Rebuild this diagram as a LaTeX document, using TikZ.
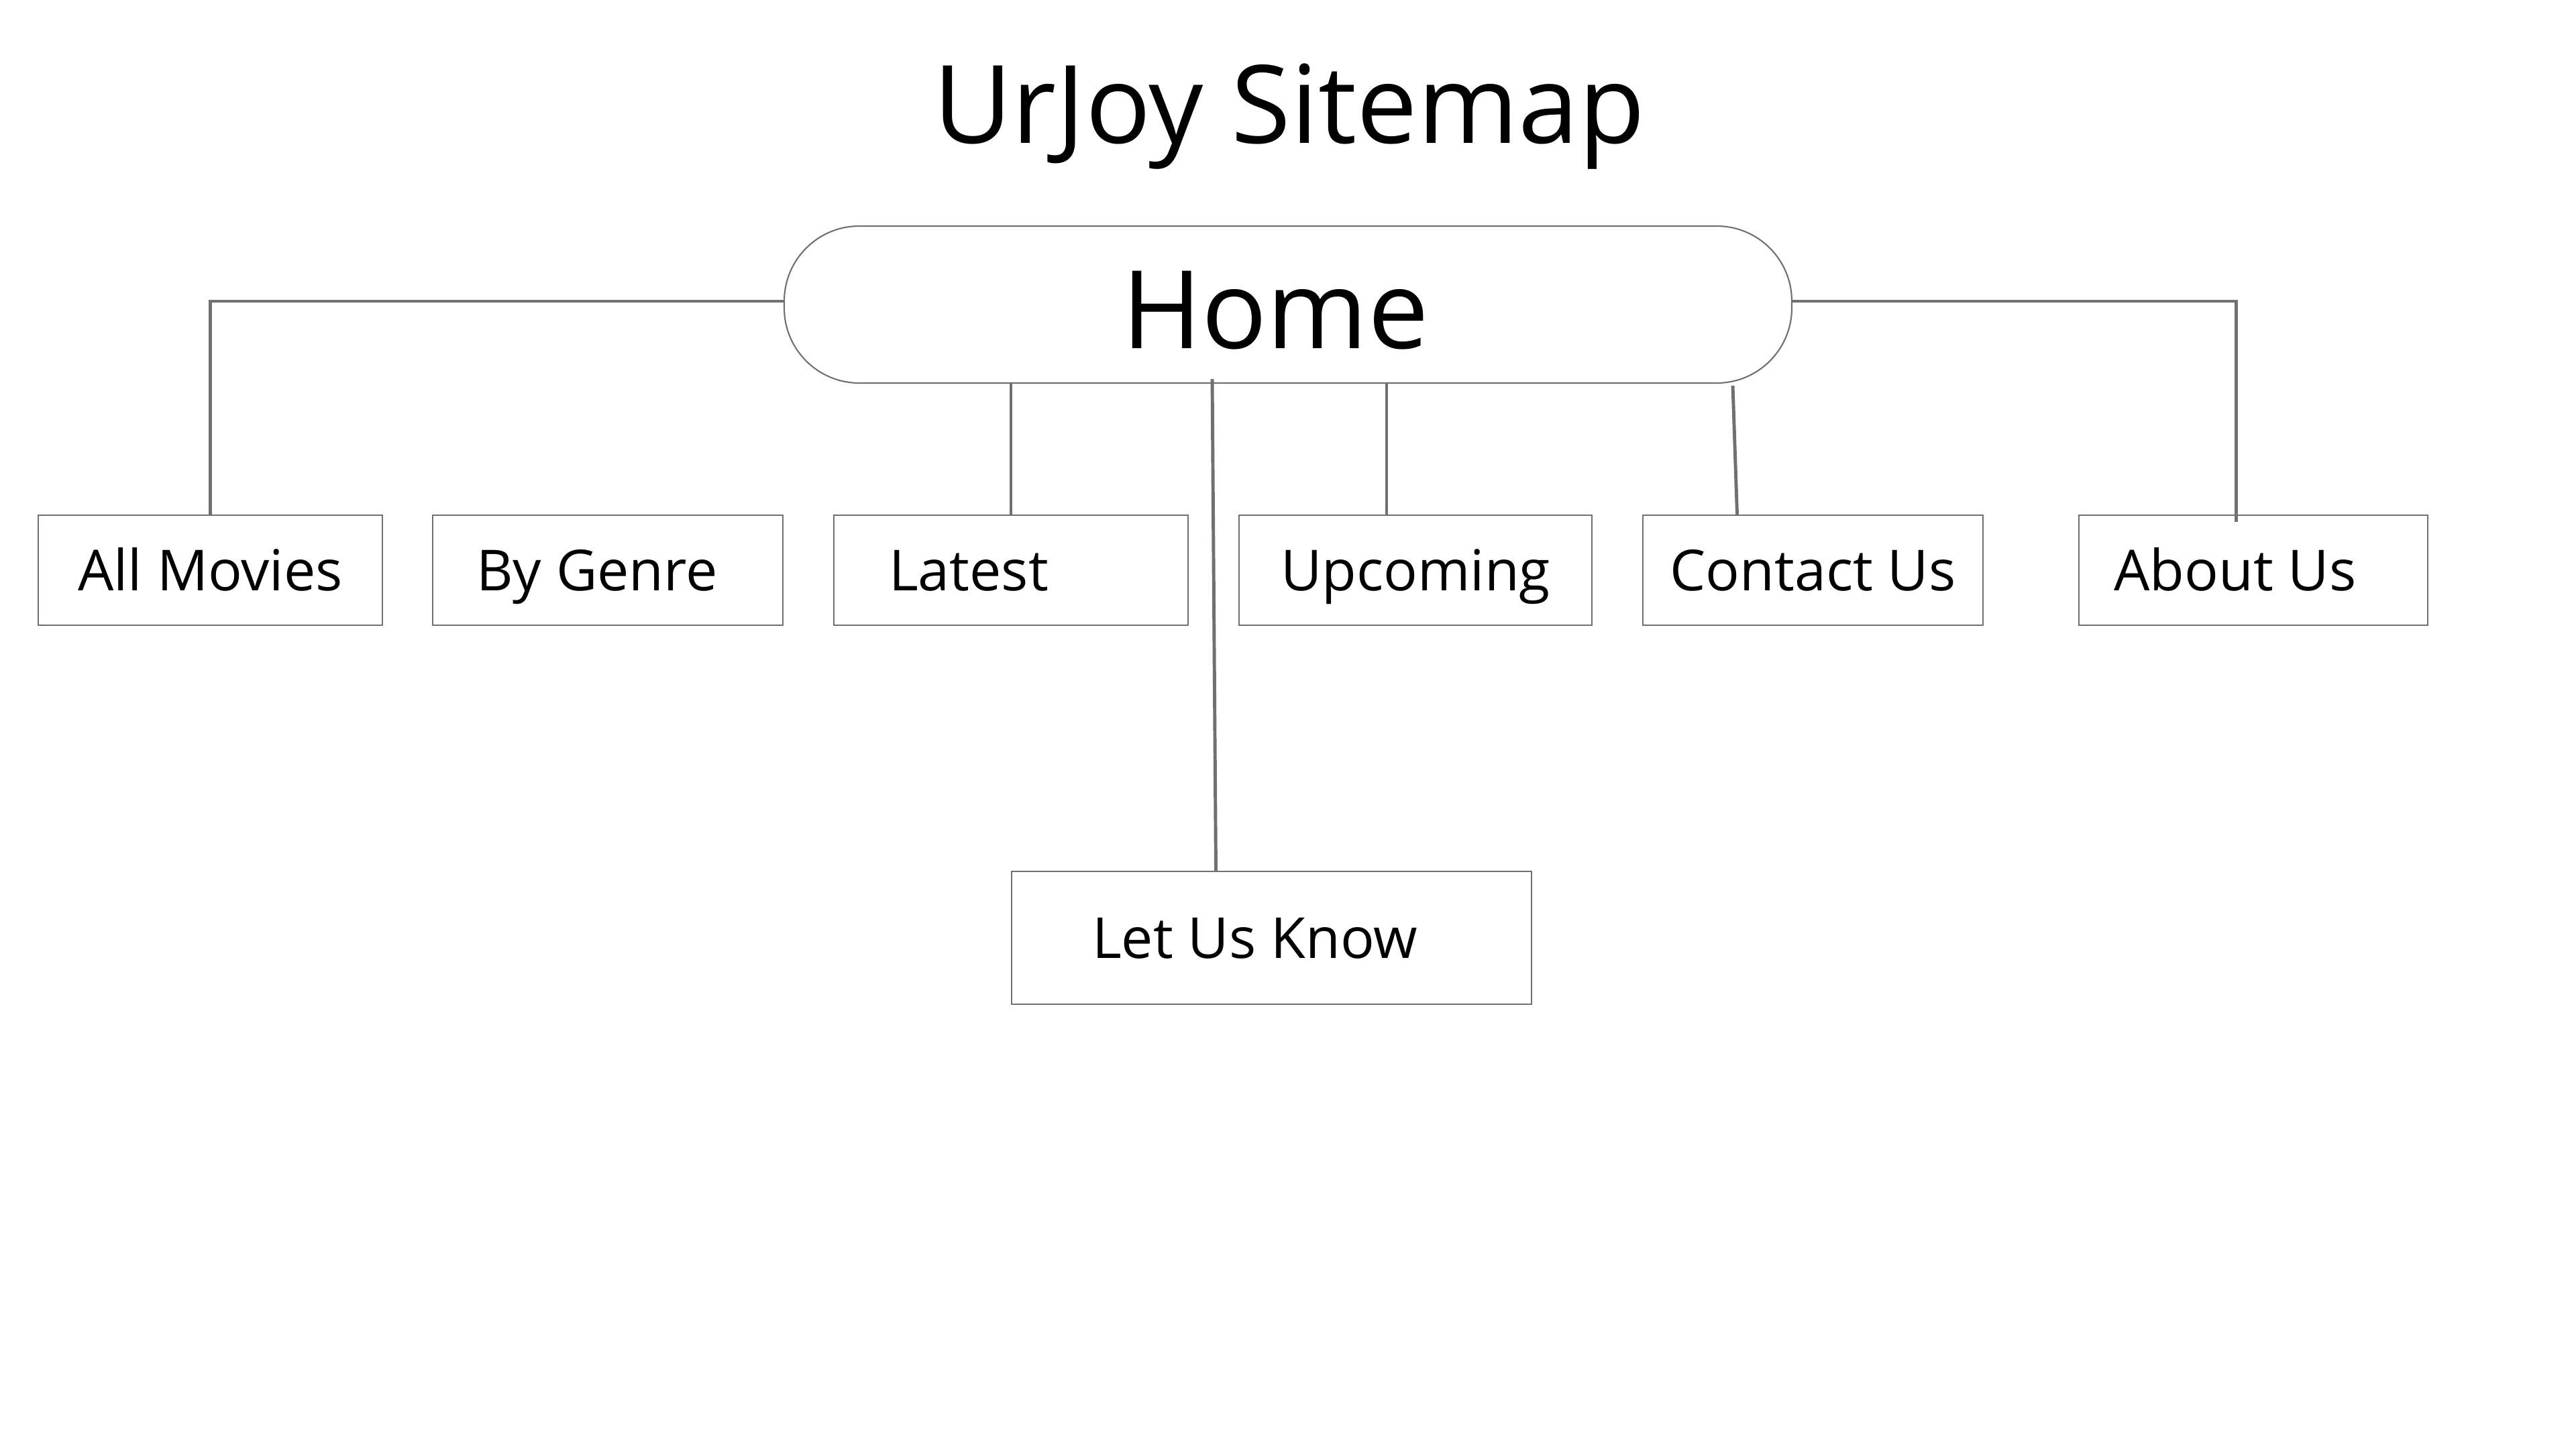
\documentclass[tikz,border=0pt]{standalone}
\usepackage{fontspec}
\setmainfont{Open Sans}
\usepackage{tikz}
\usetikzlibrary{positioning,calc}
\definecolor{linegray}{RGB}{112,112,112}

\begin{document}
\begin{tikzpicture}[
  pagetitle/.style={font=\fontsize{46}{50}\selectfont,inner sep=0pt,anchor=base},
  homebox/.style={rectangle,rounded corners=1.12cm,draw=linegray,line width=0.6pt,
                  minimum width=15.02cm,minimum height=2.34cm,inner sep=0pt,
                  text height=1.40cm,text depth=0.08cm,
                  font=\fontsize{46}{50}\selectfont},
  pagebox/.style={rectangle,draw=linegray,line width=0.6pt,minimum height=1.64cm,
                  inner sep=0pt,text height=0.75cm,text depth=0.15cm,
                  font=\fontsize{24}{28}\selectfont},
  link/.style={draw=linegray,line width=1.4pt}
]
\useasboundingbox (0,0) rectangle (38.4,-21.6);

\node[pagetitle] (title) at (19.22,-2.14) {UrJoy Sitemap};
\node[homebox] (home) at (19.20,-4.54) {\hspace*{-0.38cm}Home};

% first row of pages
\node[pagebox,minimum width=5.13cm] (allmov)  at (3.135,-8.50)  {All Movies};
\node[pagebox,minimum width=5.22cm] (genre)   at (9.06,-8.50)   {\hspace*{-0.32cm}By Genre};
\node[pagebox,minimum width=5.28cm] (latest)  at (15.07,-8.50)  {\hspace*{-1.26cm}Latest};
\node[pagebox,minimum width=5.26cm] (upcom)   at (21.10,-8.50)  {Upcoming};
\node[pagebox,minimum width=5.07cm] (contact) at (27.025,-8.50) {Contact Us};
\node[pagebox,minimum width=5.20cm] (about)   at (33.59,-8.50)  {\hspace*{-0.54cm}About Us};

% second row
\node[pagebox,minimum width=7.75cm,minimum height=1.98cm] (letus) at (18.955,-13.98) {\hspace*{-0.5cm}Let Us Know};

\draw[link] ([yshift=0.05cm]home.west) -| (allmov.north);
\draw[link] ([yshift=0.05cm]home.east) -| ([xshift=-0.26cm,yshift=-0.11cm]about.north);
\draw[link] (latest.north) -- (latest.north |- home.south);
\draw[link] ([xshift=-0.43cm]upcom.north) -- ([xshift=-0.43cm]upcom.north |- home.south);
\draw[link] ([xshift=-1.13cm]contact.north) -- ([xshift=6.63cm,yshift=-0.03cm]home.south);
\draw[link] ([xshift=-0.83cm]letus.north) -- ([xshift=-1.13cm,yshift=0.07cm]home.south);
\end{tikzpicture}
\end{document}
